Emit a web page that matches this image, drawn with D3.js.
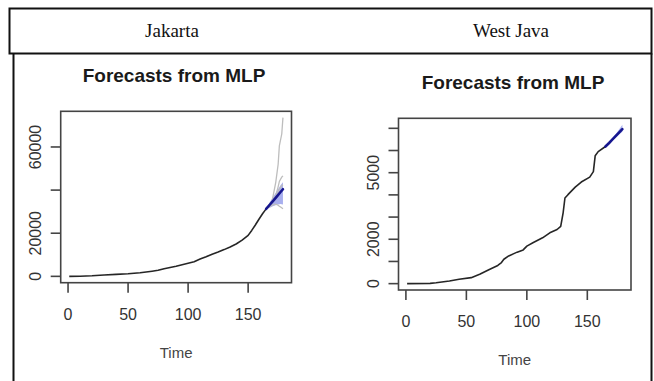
<!DOCTYPE html>
<meta charset="utf-8">
<style>
  body{
    margin:0;
    background:#fff;
  }
  #vis{
    display:block;
  }
</style>
<script src="https://d3js.org/d3.v7.min.js"></script>
<svg id="vis"></svg>
<script>
  var width = 654,
    height = 381;

  // ---- data ----------------------------------------------------------
  var regions = ["Jakarta", "West Java"];
  var plotTitle = "Forecasts from MLP";
  var xTicks = [0, 50, 100, 150];

  // Jakarta observed series
  var jktTime  = [1, 10, 20, 30, 40, 50, 60, 70, 75, 80, 85, 90, 95, 100, 105, 110, 115, 120, 125, 130, 135, 140, 145, 150, 153, 156, 159, 162, 165];
  var jktCases = [0, 60, 250, 650, 900, 1200, 1700, 2400, 2800, 3500, 4100, 4700, 5400, 6100, 6800, 8000, 9100, 10300, 11300, 12400, 13600, 15000, 16800, 19000, 21300, 23800, 26500, 29000, 31300];
  // Jakarta forecast
  var jktFcTime = [165, 168, 171, 174, 177, 179];
  var jktFcMean = [31300, 33200, 35100, 37100, 39100, 40400];
  var jktFcLo   = [31300, 31800, 32600, 33200, 33500, 33300];
  var jktFcHi   = [31300, 34400, 37000, 39600, 42200, 43600];
  // Jakarta simulated paths (grey)
  var jktPathTime = [165, 170, 173, 175, 176, 178, 179];
  var jktPathA = [31300, 35000, 43600, 52000, 60500, 66000, 73600];
  var jktPathB = [31300, 34500, 37500, 41500, 44000, 46000, 46600];
  var jktPathC = [31300, 34000, 36000, 38500, 40500, 42000, 42500];
  var jktPathD = [31300, 33000, 33500, 33000, 32500, 31800, 31300];

  var jktYTicks  = [0, 20000, 40000, 60000];
  var jktYLabels = [0, 20000, 60000];

  // West Java observed series
  var jbTime  = [1, 20, 25, 36, 44, 54, 61, 69, 76, 79, 81, 85, 92, 97, 100, 105, 113, 119, 125, 128, 130, 131.5, 134, 140, 145, 152, 155, 156.5, 159, 165];
  var jbCases = [0, 10, 40, 120, 195, 270, 420, 640, 820, 950, 1100, 1250, 1420, 1520, 1690, 1840, 2065, 2290, 2440, 2580, 3190, 3860, 4010, 4350, 4580, 4800, 5050, 5760, 5950, 6180];
  // West Java forecast
  var jbFcTime = [165, 168, 171, 174, 177, 179];
  var jbFcMean = [6180, 6340, 6510, 6680, 6850, 6960];
  var jbFcLo   = [6180, 6300, 6450, 6600, 6750, 6850];
  var jbFcHi   = [6180, 6380, 6580, 6780, 7000, 7165];

  var jbYTicks  = [0, 1000, 2000, 3000, 4000, 5000, 6000, 7000];
  var jbYLabels = [0, 2000, 5000];

  // ---- svg -------------------------------------------------------------
  var svg = d3.select("#vis")
    .attr("width", width)
    .attr("height", height);

  // table frame
  svg.append("rect")
    .attr("x", 9.5).attr("y", 8.5)
    .attr("width", 642).attr("height", 45)
    .style("fill", "none")
    .style("stroke", "#111")
    .style("stroke-width", 2);
  svg.append("line")
    .attr("x1", 13.5).attr("x2", 13.5).attr("y1", 53.5).attr("y2", height)
    .style("stroke", "#111").style("stroke-width", 2);
  svg.append("line")
    .attr("x1", 651.5).attr("x2", 651.5).attr("y1", 53.5).attr("y2", height)
    .style("stroke", "#111").style("stroke-width", 2);

  svg.selectAll(".header")
    .data(regions)
    .enter().append("text")
    .attr("class", "header")
    .attr("x", (d, i) => i == 0 ? 172 : 511)
    .attr("y", 37)
    .attr("text-anchor", "middle")
    .style("font-family", "'Liberation Serif', 'Times New Roman', serif")
    .style("font-size", "19px")
    .style("fill", "#111")
    .text(d => d);

  // ---- panels ----------------------------------------------------------
  function zip(t, v) {
    return t.map((d, i) => ({t: d, v: v[i]}));
  }

  var panels = [
    {
      box: {x0: 60.7, x1: 291.5, y0: 111.3, y1: 282.7},
      titleX: 174, titleY: 82,
      obs: zip(jktTime, jktCases),
      fcTime: jktFcTime, mean: jktFcMean, lo: jktFcLo, hi: jktFcHi,
      paths: [jktPathA, jktPathB, jktPathC, jktPathD].map(p => zip(jktPathTime, p)),
      yTicks: jktYTicks, yLabels: jktYLabels
    },
    {
      box: {x0: 398.5, x1: 631, y0: 118.3, y1: 290},
      titleX: 513, titleY: 88.5,
      obs: zip(jbTime, jbCases),
      fcTime: jbFcTime, mean: jbFcMean, lo: jbFcLo, hi: jbFcHi,
      paths: [],
      yTicks: jbYTicks, yLabels: jbYLabels
    }
  ];

  panels.forEach(drawPanel);

  function drawPanel(p) {
    var g = svg.append("g");
    var b = p.box;

    // R style 4% padding on both axes
    var allT = p.obs.map(d => d.t).concat(p.fcTime);
    var allV = p.obs.map(d => d.v).concat(p.hi, p.lo);
    p.paths.forEach(path => path.forEach(d => allV.push(d.v)));
    var tExt = d3.extent(allT), vExt = d3.extent(allV);
    var tPad = 0.04 * (tExt[1] - tExt[0]), vPad = 0.04 * (vExt[1] - vExt[0]);

    var x = d3.scaleLinear()
      .domain([tExt[0] - tPad, tExt[1] + tPad])
      .range([b.x0, b.x1]);
    var y = d3.scaleLinear()
      .domain([vExt[0] - vPad, vExt[1] + vPad])
      .range([b.y1, b.y0]);

    // title
    g.append("text")
      .attr("x", p.titleX)
      .attr("y", p.titleY)
      .attr("text-anchor", "middle")
      .style("font-family", "'Liberation Sans', Arial, sans-serif")
      .style("font-weight", "bold")
      .style("font-size", "19px")
      .style("fill", "#1a1a1a")
      .text(plotTitle);

    var fc = p.fcTime.map((t, i) => ({t: t, m: p.mean[i], lo: p.lo[i], hi: p.hi[i]}));

    // prediction fan
    g.append("path")
      .datum(fc)
      .attr("d", d3.area().x(d => x(d.t)).y0(d => y(d.lo)).y1(d => y(d.hi)))
      .style("fill", "#9ea6ec")
      .style("opacity", 0.9);

    // grey sample paths
    var line = d3.line().x(d => x(d.t)).y(d => y(d.v));
    g.selectAll(".simPath")
      .data(p.paths)
      .enter().append("path")
      .attr("class", "simPath")
      .attr("d", line)
      .style("fill", "none")
      .style("stroke", "#bdbdbd")
      .style("stroke-width", 1.3);

    // observed
    g.append("path")
      .datum(p.obs)
      .attr("d", line)
      .style("fill", "none")
      .style("stroke", "#262626")
      .style("stroke-width", 1.6)
      .style("stroke-linejoin", "round");

    // forecast mean
    g.append("path")
      .datum(fc)
      .attr("d", d3.line().x(d => x(d.t)).y(d => y(d.m)))
      .style("fill", "none")
      .style("stroke", "#16168f")
      .style("stroke-width", 2.6)
      .style("stroke-linecap", "round");

    // box
    g.append("rect")
      .attr("x", b.x0).attr("y", b.y0)
      .attr("width", b.x1 - b.x0).attr("height", b.y1 - b.y0)
      .style("fill", "none")
      .style("stroke", "#444")
      .style("stroke-width", 1.6);

    // x axis ticks + labels
    g.selectAll(".xtick")
      .data(xTicks)
      .enter().append("line")
      .attr("class", "xtick")
      .attr("x1", d => x(d)).attr("x2", d => x(d))
      .attr("y1", b.y1).attr("y2", b.y1 + 10)
      .style("stroke", "#444").style("stroke-width", 1.6);
    g.selectAll(".xlab")
      .data(xTicks)
      .enter().append("text")
      .attr("class", "xlab")
      .attr("x", d => x(d))
      .attr("y", b.y1 + 37)
      .attr("text-anchor", "middle")
      .style("font-family", "'Liberation Sans', Arial, sans-serif")
      .style("font-size", "16px")
      .style("fill", "#333")
      .text(d => d);

    g.append("text")
      .attr("x", x(90))
      .attr("y", b.y1 + 75)
      .attr("text-anchor", "middle")
      .style("font-family", "'Liberation Sans', Arial, sans-serif")
      .style("font-size", "15px")
      .style("fill", "#444")
      .text("Time");

    // y axis ticks + labels
    g.selectAll(".ytick")
      .data(p.yTicks)
      .enter().append("line")
      .attr("class", "ytick")
      .attr("x1", b.x0 - 10).attr("x2", b.x0)
      .attr("y1", d => y(d)).attr("y2", d => y(d))
      .style("stroke", "#444").style("stroke-width", 1.6);
    g.selectAll(".ylab")
      .data(p.yLabels)
      .enter().append("text")
      .attr("class", "ylab")
      .attr("transform", d => "translate(" + (b.x0 - 20) + "," + y(d) + ") rotate(-90)")
      .attr("text-anchor", "middle")
      .style("font-family", "'Liberation Sans', Arial, sans-serif")
      .style("font-size", "16px")
      .style("fill", "#333")
      .text(d => d);
  }
</script>
